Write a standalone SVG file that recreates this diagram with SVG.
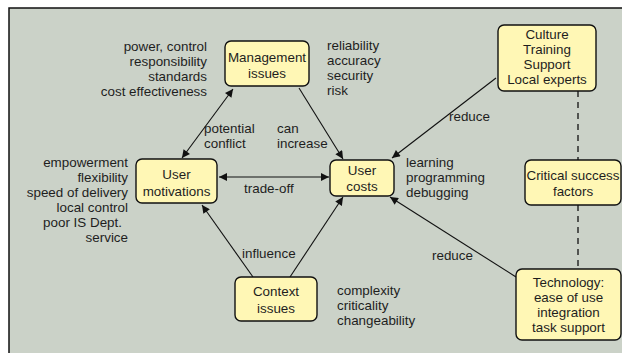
<svg xmlns="http://www.w3.org/2000/svg" width="622" height="353" viewBox="0 0 622 353">
<style>
text{font-family:"Liberation Sans",Arial,sans-serif;font-size:13.4px;fill:#1e1e1e}
.box{fill:#fff7b5;stroke:#111;stroke-width:1.4}
.c{text-anchor:middle}
.r{text-anchor:end}
.ln{stroke:#111;stroke-width:1.1;fill:none}
.dash{stroke:#111;stroke-width:1.3;stroke-dasharray:6,5;fill:none}
</style>
<defs>
<marker id="ah" viewBox="0 0 10 10" refX="10" refY="5" markerWidth="10" markerHeight="8" markerUnits="userSpaceOnUse" orient="auto-start-reverse">
<path d="M0,0 L10,5 L0,10 z" fill="#111"/>
</marker>
</defs>
<rect x="0" y="0" width="622" height="353" fill="#ffffff"/>
<rect x="9" y="8" width="630" height="360" fill="#cbd2c8" stroke="#111" stroke-width="1.5"/>

<g id="connectors">
<line class="ln" x1="233" y1="89" x2="182" y2="158" marker-start="url(#ah)" marker-end="url(#ah)"/>
<line class="ln" x1="299" y1="88" x2="343" y2="159" marker-end="url(#ah)"/>
<line class="ln" x1="496" y1="78" x2="392" y2="158" marker-end="url(#ah)"/>
<line class="ln" x1="219" y1="177" x2="329" y2="177" marker-start="url(#ah)" marker-end="url(#ah)"/>
<line class="ln" x1="253" y1="277" x2="202" y2="205" marker-end="url(#ah)"/>
<line class="ln" x1="290" y1="277" x2="343" y2="197" marker-end="url(#ah)"/>
<line class="ln" x1="516" y1="277" x2="390" y2="197" marker-end="url(#ah)"/>
<line class="dash" x1="578" y1="91" x2="578" y2="160"/>
<line class="dash" x1="578" y1="205" x2="578" y2="269"/>
</g>

<g id="management">
<rect class="box" x="225" y="41" width="84" height="45" rx="6"/>
<text class="c" x="267" y="62">Management</text>
<text class="c" x="267" y="78">issues</text>
</g>
<g id="culture">
<rect class="box" x="498" y="25" width="98" height="66" rx="6"/>
<text class="c" x="547" y="39">Culture</text>
<text class="c" x="547" y="54">Training</text>
<text class="c" x="547" y="69">Support</text>
<text class="c" x="547" y="84">Local experts</text>
</g>
<g id="user-motivations">
<rect class="box" x="136" y="159" width="81" height="44" rx="6"/>
<text class="c" x="176.5" y="179">User</text>
<text class="c" x="176.5" y="196">motivations</text>
</g>
<g id="user-costs">
<rect class="box" x="330" y="160" width="64" height="36" rx="6"/>
<text class="c" x="362" y="175">User</text>
<text class="c" x="362" y="191">costs</text>
</g>
<g id="critical">
<rect class="box" x="525" y="160" width="96" height="45" rx="6"/>
<text class="c" x="573" y="180">Critical success</text>
<text class="c" x="573" y="196">factors</text>
</g>
<g id="technology">
<rect class="box" x="516" y="269" width="105" height="71" rx="6"/>
<text class="c" x="568.5" y="287">Technology:</text>
<text class="c" x="568.5" y="302">ease of use</text>
<text class="c" x="568.5" y="317">integration</text>
<text class="c" x="568.5" y="332">task support</text>
</g>
<g id="context">
<rect class="box" x="235" y="277" width="82" height="44" rx="6"/>
<text class="c" x="276" y="296">Context</text>
<text class="c" x="276" y="313">issues</text>
</g>

<g id="labels">
<text class="r" x="207" y="51">power, control</text>
<text class="r" x="207" y="66">responsibility</text>
<text class="r" x="207" y="81">standards</text>
<text class="r" x="207" y="96">cost effectiveness</text>
<text x="327" y="50">reliability</text>
<text x="327" y="65">accuracy</text>
<text x="327" y="80">security</text>
<text x="327" y="95">risk</text>
<text x="204" y="133">potential</text>
<text x="204" y="148">conflict</text>
<text x="277" y="133">can</text>
<text x="277" y="148">increase</text>
<text x="449" y="121">reduce</text>
<text x="406" y="167">learning</text>
<text x="406" y="182">programming</text>
<text x="406" y="197">debugging</text>
<text class="r" x="128" y="167">empowerment</text>
<text class="r" x="128" y="182">flexibility</text>
<text class="r" x="128" y="197">speed of delivery</text>
<text class="r" x="128" y="212">local control</text>
<text class="r" x="122" y="227">poor IS Dept.</text>
<text class="r" x="128" y="242">service</text>
<text x="244" y="193">trade-off</text>
<text x="242" y="258">influence</text>
<text x="432" y="260">reduce</text>
<text x="337" y="295">complexity</text>
<text x="337" y="310">criticality</text>
<text x="337" y="325">changeability</text>
</g>
</svg>
